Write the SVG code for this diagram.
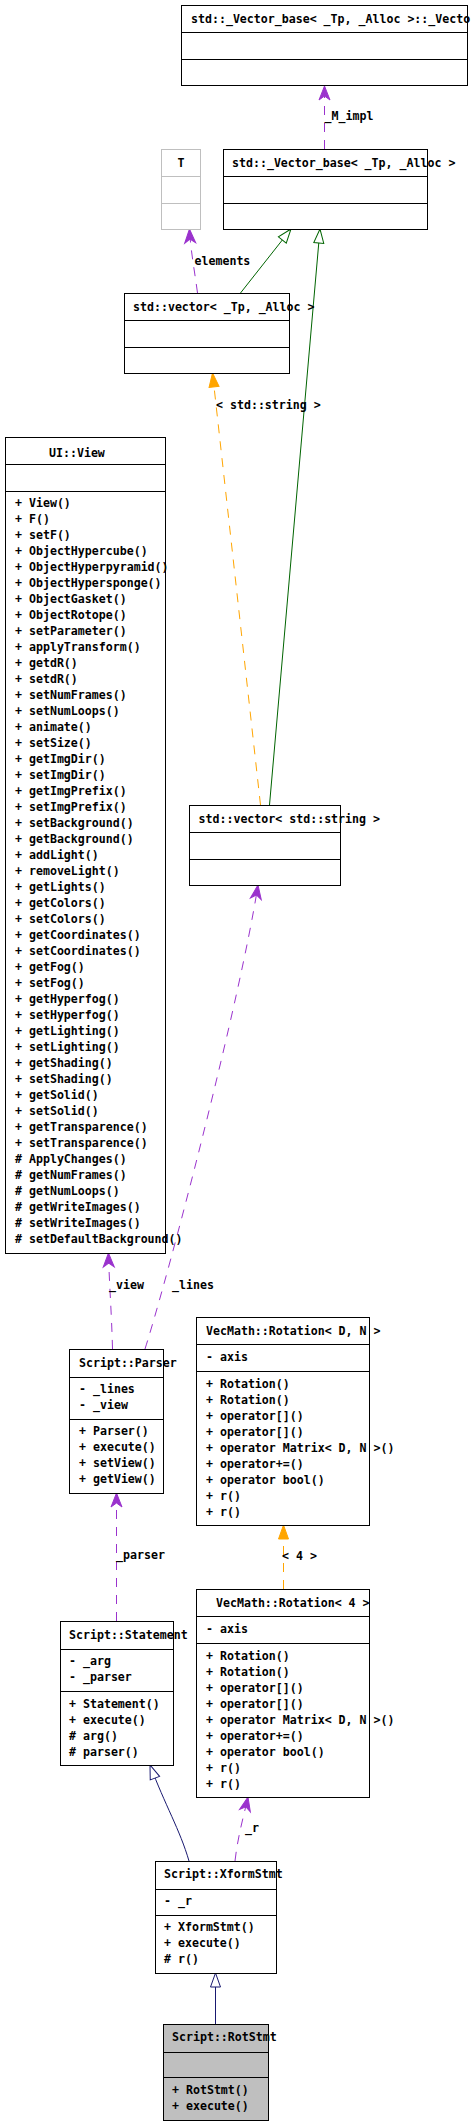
<svg xmlns="http://www.w3.org/2000/svg" width="472" height="2125" viewBox="0 0 472 2125">
<style>
.bg{fill:#ffffff}
.box{fill:#ffffff;stroke:#000000;stroke-width:1}
.gbox{fill:#bfbfbf;stroke:#000000;stroke-width:1}
.tbox{fill:#ffffff;stroke:#bfbfbf;stroke-width:1}
.div{stroke:#000000;stroke-width:1}
.tdiv{stroke:#bfbfbf;stroke-width:1}
text{font-family:"DejaVu Sans Mono","Liberation Mono",monospace;font-size:11.6px;font-weight:bold;fill:#000000}
.use{fill:none;stroke:#9a32cd;stroke-width:1;stroke-dasharray:9,8;marker-end:url(#mp)}
.tpl{fill:none;stroke:#ffa500;stroke-width:1;stroke-dasharray:9,8;marker-end:url(#mo)}
.ing{fill:none;stroke:#006400;stroke-width:1;marker-end:url(#mg)}
.inb{fill:none;stroke:#191970;stroke-width:1;marker-end:url(#mb)}
</style>
<defs>
<marker id="mp" markerUnits="userSpaceOnUse" markerWidth="16" markerHeight="14" refX="14" refY="7" orient="auto" overflow="visible">
<path d="M14,7 L0,1.5 L4,7 L0,12.5 Z" fill="#9a32cd" stroke="#9a32cd" stroke-width="1"/>
</marker>
<marker id="mo" markerUnits="userSpaceOnUse" markerWidth="16" markerHeight="14" refX="14" refY="7" orient="auto" overflow="visible">
<path d="M14,7 L0,2 L0,12 Z" fill="#ffa500" stroke="#ffa500" stroke-width="1"/>
</marker>
<marker id="mg" markerUnits="userSpaceOnUse" markerWidth="16" markerHeight="14" refX="14" refY="7" orient="auto" overflow="visible">
<path d="M14,7 L0,2 L0,12 Z" fill="#ffffff" stroke="#006400" stroke-width="1"/>
</marker>
<marker id="mb" markerUnits="userSpaceOnUse" markerWidth="16" markerHeight="14" refX="14" refY="7" orient="auto" overflow="visible">
<path d="M14,7 L0,2 L0,12 Z" fill="#ffffff" stroke="#191970" stroke-width="1"/>
</marker>
</defs>
<rect class="bg" x="0" y="0" width="472" height="2125"/>

<g id="connectors">
<path class="use" d="M324.5,149 L324.5,86"/>
<path class="use" d="M197.5,293 C194.5,270 190.5,250 189.5,229"/>
<path class="ing" d="M240.5,293 L291,229"/>
<path class="ing" d="M269.5,805 L320,229"/>
<path class="tpl" d="M260.5,805 L212.5,373"/>
<path class="use" d="M145,1349 C170,1270 240,1000 258,885"/>
<path class="use" d="M112.5,1349 C111.5,1310 109,1280 108.5,1253"/>
<path class="use" d="M116.5,1621 L116.5,1493"/>
<path class="tpl" d="M283.5,1589 L283.5,1525"/>
<path class="inb" d="M189,1861 C180,1830 165,1805 150,1765"/>
<path class="use" d="M235,1861 C238,1835 244,1815 248,1797"/>
<path class="inb" d="M215.5,2024 L215.5,1973"/>
<text x="324.5" y="120">_M_impl</text>
<text x="194.5" y="265">elements</text>
<text x="216" y="409">&lt; std::string &gt;</text>
<text x="109" y="1289">_view</text>
<text x="172" y="1289">_lines</text>
<text x="282" y="1560">&lt; 4 &gt;</text>
<text x="116" y="1559">_parser</text>
<text x="245" y="1832">_r</text>
</g>

<g id="node_vector_impl">
<rect class="box" x="181.5" y="5.5" width="286" height="80"/>
<line class="div" x1="181.5" y1="32.5" x2="467.5" y2="32.5"/>
<line class="div" x1="181.5" y1="59.5" x2="467.5" y2="59.5"/>
<text x="191" y="23">std::_Vector_base&lt; _Tp, _Alloc &gt;::_Vecto</text>
</g>

<g id="node_T">
<rect class="tbox" x="161.5" y="149.5" width="39" height="80"/>
<line class="tdiv" x1="161.5" y1="176.5" x2="200.5" y2="176.5"/>
<line class="tdiv" x1="161.5" y1="203.5" x2="200.5" y2="203.5"/>
<text x="181" y="167" text-anchor="middle">T</text>
</g>

<g id="node_vector_base">
<rect class="box" x="223.5" y="149.5" width="204" height="80"/>
<line class="div" x1="223.5" y1="176.5" x2="427.5" y2="176.5"/>
<line class="div" x1="223.5" y1="203.5" x2="427.5" y2="203.5"/>
<text x="232" y="167">std::_Vector_base&lt; _Tp, _Alloc &gt;</text>
</g>

<g id="node_vector_tp">
<rect class="box" x="124.5" y="293.5" width="165" height="80"/>
<line class="div" x1="124.5" y1="320.5" x2="289.5" y2="320.5"/>
<line class="div" x1="124.5" y1="347.5" x2="289.5" y2="347.5"/>
<text x="133" y="311">std::vector&lt; _Tp, _Alloc &gt;</text>
</g>

<g id="node_vector_string">
<rect class="box" x="189.5" y="805.5" width="151" height="80"/>
<line class="div" x1="189.5" y1="832.5" x2="340.5" y2="832.5"/>
<line class="div" x1="189.5" y1="859.5" x2="340.5" y2="859.5"/>
<text x="198.5" y="823">std::vector&lt; std::string &gt;</text>
</g>

<g id="node_ui_view">
<rect class="box" x="5.5" y="437.5" width="160" height="816"/>
<line class="div" x1="5.5" y1="464.5" x2="165.5" y2="464.5"/>
<line class="div" x1="5.5" y1="491.5" x2="165.5" y2="491.5"/>
<text x="49" y="457">UI::View</text>
<text x="15">
<tspan x="15" y="507">+ View()</tspan>
<tspan x="15" y="523">+ F()</tspan>
<tspan x="15" y="539">+ setF()</tspan>
<tspan x="15" y="555">+ ObjectHypercube()</tspan>
<tspan x="15" y="571">+ ObjectHyperpyramid()</tspan>
<tspan x="15" y="587">+ ObjectHypersponge()</tspan>
<tspan x="15" y="603">+ ObjectGasket()</tspan>
<tspan x="15" y="619">+ ObjectRotope()</tspan>
<tspan x="15" y="635">+ setParameter()</tspan>
<tspan x="15" y="651">+ applyTransform()</tspan>
<tspan x="15" y="667">+ getdR()</tspan>
<tspan x="15" y="683">+ setdR()</tspan>
<tspan x="15" y="699">+ setNumFrames()</tspan>
<tspan x="15" y="715">+ setNumLoops()</tspan>
<tspan x="15" y="731">+ animate()</tspan>
<tspan x="15" y="747">+ setSize()</tspan>
<tspan x="15" y="763">+ getImgDir()</tspan>
<tspan x="15" y="779">+ setImgDir()</tspan>
<tspan x="15" y="795">+ getImgPrefix()</tspan>
<tspan x="15" y="811">+ setImgPrefix()</tspan>
<tspan x="15" y="827">+ setBackground()</tspan>
<tspan x="15" y="843">+ getBackground()</tspan>
<tspan x="15" y="859">+ addLight()</tspan>
<tspan x="15" y="875">+ removeLight()</tspan>
<tspan x="15" y="891">+ getLights()</tspan>
<tspan x="15" y="907">+ getColors()</tspan>
<tspan x="15" y="923">+ setColors()</tspan>
<tspan x="15" y="939">+ getCoordinates()</tspan>
<tspan x="15" y="955">+ setCoordinates()</tspan>
<tspan x="15" y="971">+ getFog()</tspan>
<tspan x="15" y="987">+ setFog()</tspan>
<tspan x="15" y="1003">+ getHyperfog()</tspan>
<tspan x="15" y="1019">+ setHyperfog()</tspan>
<tspan x="15" y="1035">+ getLighting()</tspan>
<tspan x="15" y="1051">+ setLighting()</tspan>
<tspan x="15" y="1067">+ getShading()</tspan>
<tspan x="15" y="1083">+ setShading()</tspan>
<tspan x="15" y="1099">+ getSolid()</tspan>
<tspan x="15" y="1115">+ setSolid()</tspan>
<tspan x="15" y="1131">+ getTransparence()</tspan>
<tspan x="15" y="1147">+ setTransparence()</tspan>
<tspan x="15" y="1163"># ApplyChanges()</tspan>
<tspan x="15" y="1179"># getNumFrames()</tspan>
<tspan x="15" y="1195"># getNumLoops()</tspan>
<tspan x="15" y="1211"># getWriteImages()</tspan>
<tspan x="15" y="1227"># setWriteImages()</tspan>
<tspan x="15" y="1243"># setDefaultBackground()</tspan>
</text>
</g>

<g id="node_parser">
<rect class="box" x="69.5" y="1349.5" width="94" height="144"/>
<line class="div" x1="69.5" y1="1377.5" x2="163.5" y2="1377.5"/>
<line class="div" x1="69.5" y1="1419.5" x2="163.5" y2="1419.5"/>
<text x="79" y="1367">Script::Parser</text>
<text x="79" y="1393">- _lines</text>
<text x="79" y="1409">- _view</text>
<text x="79" y="1435">+ Parser()</text>
<text x="79" y="1451">+ execute()</text>
<text x="79" y="1467">+ setView()</text>
<text x="79" y="1483">+ getView()</text>
</g>

<g id="node_rotation_dn">
<rect class="box" x="196.5" y="1317.5" width="173" height="208"/>
<line class="div" x1="196.5" y1="1344.5" x2="369.5" y2="1344.5"/>
<line class="div" x1="196.5" y1="1371.5" x2="369.5" y2="1371.5"/>
<text x="206" y="1335">VecMath::Rotation&lt; D, N &gt;</text>
<text x="206" y="1361">- axis</text>
<text x="206" y="1388">+ Rotation()</text>
<text x="206" y="1404">+ Rotation()</text>
<text x="206" y="1420">+ operator[]()</text>
<text x="206" y="1436">+ operator[]()</text>
<text x="206" y="1452">+ operator Matrix&lt; D, N &gt;()</text>
<text x="206" y="1468">+ operator+=()</text>
<text x="206" y="1484">+ operator bool()</text>
<text x="206" y="1500">+ r()</text>
<text x="206" y="1516">+ r()</text>
</g>

<g id="node_rotation_4">
<rect class="box" x="196.5" y="1589.5" width="173" height="208"/>
<line class="div" x1="196.5" y1="1616.5" x2="369.5" y2="1616.5"/>
<line class="div" x1="196.5" y1="1643.5" x2="369.5" y2="1643.5"/>
<text x="216" y="1607">VecMath::Rotation&lt; 4 &gt;</text>
<text x="206" y="1633">- axis</text>
<text x="206" y="1660">+ Rotation()</text>
<text x="206" y="1676">+ Rotation()</text>
<text x="206" y="1692">+ operator[]()</text>
<text x="206" y="1708">+ operator[]()</text>
<text x="206" y="1724">+ operator Matrix&lt; D, N &gt;()</text>
<text x="206" y="1740">+ operator+=()</text>
<text x="206" y="1756">+ operator bool()</text>
<text x="206" y="1772">+ r()</text>
<text x="206" y="1788">+ r()</text>
</g>

<g id="node_statement">
<rect class="box" x="60.5" y="1621.5" width="113" height="144"/>
<line class="div" x1="60.5" y1="1649.5" x2="173.5" y2="1649.5"/>
<line class="div" x1="60.5" y1="1691.5" x2="173.5" y2="1691.5"/>
<text x="69" y="1639">Script::Statement</text>
<text x="69" y="1665">- _arg</text>
<text x="69" y="1681">- _parser</text>
<text x="69" y="1708">+ Statement()</text>
<text x="69" y="1724">+ execute()</text>
<text x="69" y="1740"># arg()</text>
<text x="69" y="1756"># parser()</text>
</g>

<g id="node_xformstmt">
<rect class="box" x="155.5" y="1861.5" width="121" height="112"/>
<line class="div" x1="155.5" y1="1889.5" x2="276.5" y2="1889.5"/>
<line class="div" x1="155.5" y1="1915.5" x2="276.5" y2="1915.5"/>
<text x="164" y="1878">Script::XformStmt</text>
<text x="164" y="1905">- _r</text>
<text x="164" y="1931">+ XformStmt()</text>
<text x="164" y="1947">+ execute()</text>
<text x="164" y="1963"># r()</text>
</g>

<g id="node_rotstmt">
<rect class="gbox" x="163.5" y="2024.5" width="105" height="96"/>
<line class="div" x1="163.5" y1="2052.5" x2="268.5" y2="2052.5"/>
<line class="div" x1="163.5" y1="2077.5" x2="268.5" y2="2077.5"/>
<text x="172" y="2041">Script::RotStmt</text>
<text x="172" y="2094">+ RotStmt()</text>
<text x="172" y="2110">+ execute()</text>
</g>
</svg>
